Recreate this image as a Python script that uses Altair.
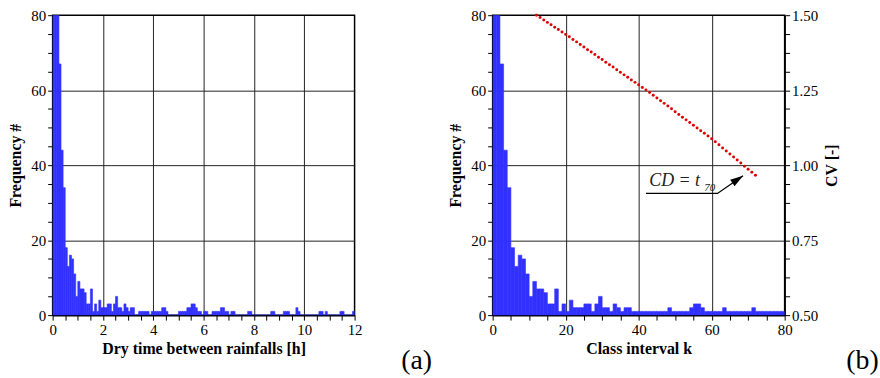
import altair as alt
import pandas as pd

FONT = "Liberation Serif"
BLUE = "#3131FF"
RED = "#DD0000"
GRID = "#222222"

# ---------------- data ----------------
# (a) frequency per 5-minute class of dry time (class index 0..143 -> hours = k/12)
left_counts = [
    180, 180, 180, 67, 44, 34, 18, 13, 16, 15,
    11, 5, 9, 7, 7, 6, 3, 3, 7, 1,
    3, 1, 4, 2, 2, 2, 3, 3, 1, 3,
    5, 2, 2, 1, 3, 2, 1, 2, 2, 0,
    0, 1, 1, 1, 1, 1, 0, 1, 1, 1,
    1, 1, 2, 2, 1, 0, 0, 0, 0, 0,
    1, 1, 1, 1, 2, 2, 3, 3, 2, 1,
    1, 0, 1, 1, 0, 0, 1, 1, 1, 1,
    2, 2, 1, 1, 0, 1, 1, 0, 0, 0,
    0, 0, 0, 1, 1, 0, 0, 0, 0, 0,
    0, 0, 0, 0, 1, 1, 0, 0, 0, 0,
    1, 1, 1, 0, 0, 0, 2, 1, 0, 0,
    0, 0, 0, 0, 0, 0, 0, 1, 1, 0,
    1, 0, 0, 0, 0, 0, 0, 1, 1, 0,
    0, 0, 0, 1,
]
# (b) frequency per class interval k = 0..79
right_counts = [
    180, 180, 67, 44, 34, 18, 13, 16, 15, 11,
    5, 9, 7, 7, 6, 3, 3, 7, 1, 3,
    1, 4, 2, 2, 2, 3, 3, 1, 3, 5,
    2, 2, 1, 3, 2, 1, 2, 2, 1, 1,
    1, 1, 1, 1, 1, 1, 1, 1, 2, 1,
    1, 1, 1, 1, 2, 3, 3, 2, 1, 1,
    1, 1, 1, 2, 1, 1, 1, 1, 1, 1,
    1, 2, 1, 1, 1, 1, 1, 1, 1, 1,
]
# (b) coefficient of variation CV versus class interval k
cv_k = list(range(12, 73))
cv_values = [
    1.500, 1.492, 1.484, 1.476, 1.468, 1.460, 1.452, 1.444, 1.436,
    1.428, 1.419, 1.411, 1.402, 1.394, 1.385, 1.377, 1.369, 1.360, 1.352,
    1.343, 1.335, 1.327, 1.318, 1.310, 1.301, 1.293, 1.284, 1.276, 1.268,
    1.259, 1.251, 1.242, 1.233, 1.224, 1.215, 1.206, 1.197, 1.188, 1.178,
    1.169, 1.160, 1.151, 1.142, 1.133, 1.124, 1.115, 1.106, 1.097, 1.088,
    1.078, 1.068, 1.057, 1.047, 1.037, 1.027, 1.017, 1.007, 0.996, 0.986,
    0.976, 0.966,
]
# annotation "CD = t70" (in k / CV coordinates)
ann_path_k = [42.0, 61.6, 68.6]
ann_path_cv = [0.9056, 0.9056, 0.965]
ann_text = ["CD = t", "70"]
ann_text_k = [42.9, 58.0]
ann_text_cv = [0.932, 0.9135]
ann_text_size = [18, 11]
panel_labels = ["(a)", "(b)"]

# ---------------- tables ----------------
left_df = pd.DataFrame({
    "h0": [i / 12 for i in range(len(left_counts))],
    "h1": [(i + 1) / 12 for i in range(len(left_counts))],
    "n": left_counts,
})
right_df = pd.DataFrame({
    "k0": list(range(len(right_counts))),
    "k1": [i + 1 for i in range(len(right_counts))],
    "n": right_counts,
})
cv_df = pd.DataFrame({"k": cv_k, "cv": cv_values})
path_df = pd.DataFrame({"k": ann_path_k, "cv": ann_path_cv, "o": [0, 1, 2]})
tip_df = pd.DataFrame({"k": [ann_path_k[-1]], "cv": [ann_path_cv[-1]]})
txt_df = pd.DataFrame({"k": ann_text_k, "cv": ann_text_cv, "t": ann_text, "s": ann_text_size})


def cond_color(test):
    return {"condition": {"test": test, "value": GRID}, "value": "transparent"}


AX = dict(
    labelFont=FONT, labelFontSize=15, labelColor="black", labelPadding=2,
    titleFont=FONT, titleFontSize=16, titleFontWeight="bold", titleColor="black",
    domainColor="black", domainWidth=1.5,
    ticks=True, tickColor="black", tickSize=5, tickWidth=1,
    gridWidth=1, labelOverlap=False, labelFlush=False,
)

W_L, W_R, H = 304, 294, 302

freq_y_axis = alt.Axis(
    values=[i * 5 for i in range(17)],
    labelExpr="datum.value % 20 === 0 ? format(datum.value, 'd') : ''",
    gridColor=cond_color("datum.value % 20 === 0 && datum.value > 0 && datum.value < 80"),
    grid=True, title="Frequency #", titlePadding=7, **AX,
)
freq_y = alt.Y("n:Q", scale=alt.Scale(domain=[0, 80], nice=False), axis=freq_y_axis)
zero = alt.datum(0)

# ---------------- panel (a) ----------------
left_bars = alt.Chart(left_df).mark_bar(
    color=BLUE, clip=True, stroke=BLUE, strokeWidth=0.6
).encode(
    x=alt.X("h0:Q", scale=alt.Scale(domain=[0, 12], nice=False),
            axis=alt.Axis(
                values=[i * 0.5 for i in range(25)],
                labelExpr="datum.value % 2 === 0 ? format(datum.value, 'd') : ''",
                gridColor=cond_color("datum.value % 2 === 0 && datum.value > 0 && datum.value < 12"),
                grid=True, title="Dry time between rainfalls [h]", **AX,
            )),
    x2="h1:Q",
    y=freq_y,
    y2=zero,
)
left_lab = alt.Chart(pd.DataFrame({"t": [panel_labels[0]]})).mark_text(
    font=FONT, fontSize=28, align="left", baseline="alphabetic", color="black"
).encode(x=alt.value(351), y=alt.value(356), text="t:N")

left = alt.layer(left_bars, left_lab).properties(width=W_L, height=H)

# ---------------- panel (b) ----------------
kx = alt.Scale(domain=[0, 80], nice=False)
cvs = alt.Scale(domain=[0.5, 1.5], nice=False)

right_bars = alt.Chart(right_df).mark_bar(
    color=BLUE, clip=True, stroke=BLUE, strokeWidth=0.6
).encode(
    x=alt.X("k0:Q", scale=kx,
            axis=alt.Axis(
                values=[i * 5 for i in range(17)],
                labelExpr="datum.value % 20 === 0 ? format(datum.value, 'd') : ''",
                gridColor=cond_color("datum.value % 20 === 0 && datum.value > 0 && datum.value < 80"),
                grid=True, title="Class interval k", **AX,
            )),
    x2="k1:Q",
    y=freq_y,
    y2=zero,
)

cv_points = alt.Chart(cv_df).mark_point(filled=True, color=RED, size=9, opacity=1).encode(
    x=alt.X("k:Q", scale=kx, axis=None),
    y=alt.Y("cv:Q", scale=cvs, axis=alt.Axis(
        orient="right", title="CV [-]", titleAngle=270, titleBaseline="top",
        values=[0.5 + i * 0.0625 for i in range(17)],
        labelExpr="(datum.value * 4) % 1 === 0 ? format(datum.value, '.2f') : ''",
        grid=False, titlePadding=6, **AX,
    )),
)
ann_line = alt.Chart(path_df).mark_line(color="black", strokeWidth=1.3).encode(
    x=alt.X("k:Q", scale=kx, axis=None),
    y=alt.Y("cv:Q", scale=cvs, axis=None),
    order="o:Q",
)
ann_tip = alt.Chart(tip_df).mark_point(
    shape="M0,0L0.6,2L-0.6,2Z", filled=True, color="black", size=170, angle=55.5, opacity=1
).encode(
    x=alt.X("k:Q", scale=kx, axis=None),
    y=alt.Y("cv:Q", scale=cvs, axis=None),
)
ann_txt = alt.Chart(txt_df).mark_text(
    font=FONT, fontStyle="italic", align="left", baseline="alphabetic", color="#222222"
).encode(
    x=alt.X("k:Q", scale=kx, axis=None),
    y=alt.Y("cv:Q", scale=cvs, axis=None),
    text="t:N",
    size=alt.Size("s:Q", scale=None, legend=None),
)
right_lab = alt.Chart(pd.DataFrame({"t": [panel_labels[1]]})).mark_text(
    font=FONT, fontSize=28, align="left", baseline="alphabetic", color="black"
).encode(x=alt.value(356), y=alt.value(356), text="t:N")

right = alt.layer(
    right_bars, cv_points, ann_line, ann_tip, ann_txt, right_lab
).resolve_scale(y="independent").resolve_axis(x="independent", y="independent").properties(
    width=W_R, height=H
)

chart = alt.hconcat(left, right, spacing=14).properties(
    padding={"left": 7, "top": 6, "right": 0, "bottom": 0},
    background="white",
).configure(
    font=FONT
).configure_view(
    stroke="black", strokeWidth=1.5
)

chart.save("out.html", embed_options={"renderer": "svg", "actions": False})
